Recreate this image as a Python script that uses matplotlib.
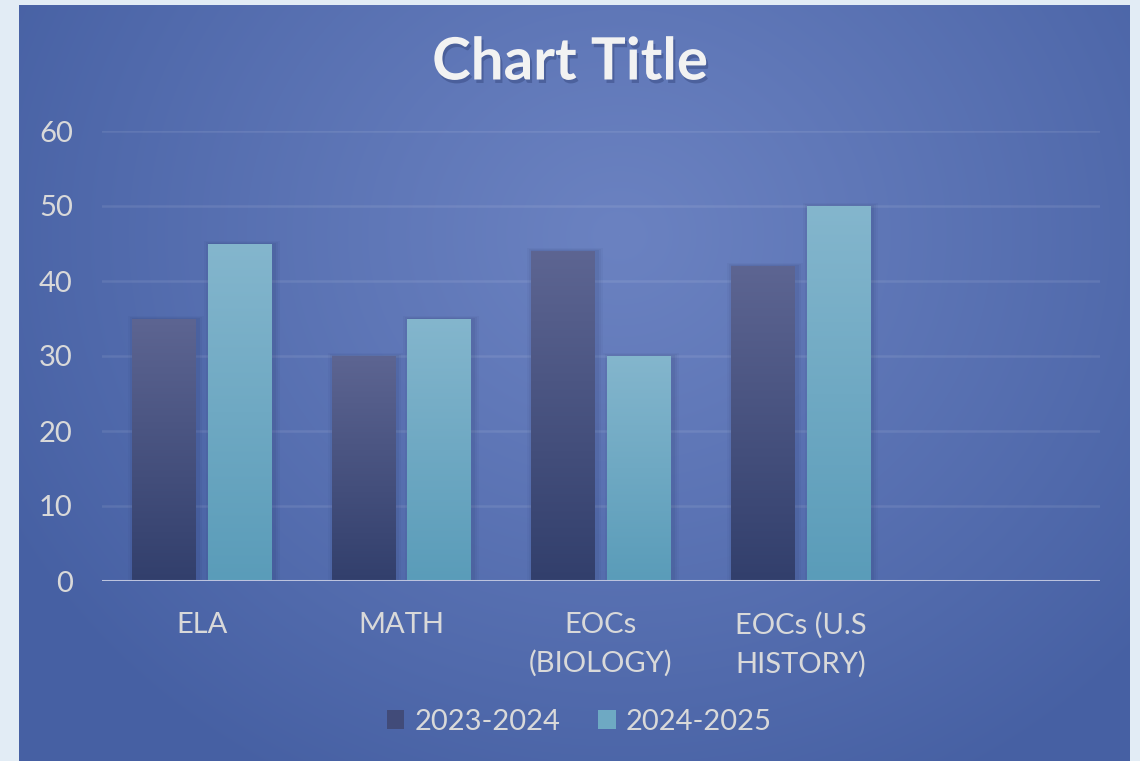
import numpy as np
import matplotlib.pyplot as plt
from matplotlib.colors import LinearSegmentedColormap, to_rgb
from matplotlib.patches import Rectangle, Patch
import matplotlib.patheffects as pe

plt.rcParams['font.family'] = ['Lato', 'DejaVu Sans']

# data
categories = ['ELA', 'MATH', 'EOCs\n(BIOLOGY)', 'EOCs (U.S\nHISTORY)', '']
series_names = ['2023-2024', '2024-2025']
vals_2023 = [35, 30, 44, 42, np.nan]
vals_2024 = [45, 35, 30, 50, np.nan]
yticks = [0, 10, 20, 30, 40, 50, 60]

txt_col = '#d9d9d9'
dark_top, dark_bot = '#5d6592', '#323f6c'
light_top, light_bot = '#84b6cd', '#5a9cb9'

W, H = 1140, 761
fig = plt.figure(figsize=(W / 100, H / 100), dpi=100)
fig.patch.set_facecolor('#e2ecf5')

# background panel with radial gradient
bg = fig.add_axes([19 / W, 0, (1130 - 19) / W, 756 / H])
bg.set_axis_off()
yy, xx = np.mgrid[0:756, 0:1111]
r = np.hypot((xx - 600) / 1.0, (yy - 230) / 0.9)
t = np.clip(r / 700, 0, 1) ** 1.1
c_in, c_out = np.array(to_rgb('#6b82c1')), np.array(to_rgb('#4660a3'))
img = c_in[None, None, :] * (1 - t[..., None]) + c_out[None, None, :] * t[..., None]
bg.imshow(img, aspect='auto', extent=[0, 1, 0, 1], origin='upper')
bg.set_xlim(0, 1)
bg.set_ylim(0, 1)

ax = fig.add_axes([102 / W, 1 - 581 / H, (1100 - 102) / W, (581 - 131) / H])
ax.patch.set_alpha(0)
x = np.arange(len(categories))
bw = 0.32
off = 0.19

px_x = 1 / 199.6   # data units per pixel
px_y = 60 / 450

def grad_bars(xpos, vals, top, bot):
    cmap = LinearSegmentedColormap.from_list('g', [bot, top])
    grad = np.linspace(0, 1, 256).reshape(-1, 1)
    for xi, v in zip(xpos, vals):
        if np.isnan(v):
            continue
        # soft shadow
        for k, a in [(6, 0.04), (4, 0.05), (2, 0.07)]:
            ax.add_patch(Rectangle((xi - bw / 2 - k * px_x + 2 * px_x, 0),
                                   bw + 2 * k * px_x, v + k * px_y * 0.5,
                                   facecolor='#1a2550', edgecolor='none',
                                   alpha=a, zorder=2))
        rect = Rectangle((xi - bw / 2, 0), bw, v, facecolor='none',
                         edgecolor='none', zorder=3)
        ax.add_patch(rect)
        im = ax.imshow(grad, cmap=cmap, origin='lower', aspect='auto',
                       extent=[xi - bw / 2, xi + bw / 2, 0, v], zorder=3)
        im.set_clip_path(rect)

grad_bars(x - off, vals_2023, dark_top, dark_bot)
grad_bars(x + off, vals_2024, light_top, light_bot)
ax.set_xlim(-0.5, len(categories) - 0.5)
ax.set_ylim(0, 60)

for yv in yticks[1:]:
    ax.axhline(yv, color='white', alpha=0.09, lw=1.8, zorder=1)
ax.axhline(0, color='#bcc3de', lw=2.2, zorder=4)

for s in ax.spines.values():
    s.set_visible(False)
ax.set_yticks(yticks)
ax.set_yticklabels([str(v) for v in yticks])
ax.set_xticks(x)
ax.set_xticklabels(categories, linespacing=1.55)
ax.tick_params(axis='y', length=0, pad=21, labelsize=21, labelcolor=txt_col)
ax.tick_params(axis='x', length=0, pad=22, labelsize=21, labelcolor=txt_col)

fig.text(0.5, 1 - 63 / H, 'Chart Title', ha='center', va='center',
         fontsize=42, fontweight='bold', color='#f2f2f2',
         path_effects=[pe.SimplePatchShadow(offset=(1.5, -2.5), shadow_rgbFace='#1c2a5c', alpha=0.3),
                       pe.Normal()])

handles = [Patch(facecolor='#414b79', edgecolor='none'),
           Patch(facecolor='#6ea9c3', edgecolor='none')]
leg = fig.legend(handles, series_names, loc='center', bbox_to_anchor=(0.508, 1 - 722 / H),
                 ncol=2, frameon=False, fontsize=21, handlelength=0.6, handleheight=0.6,
                 handletextpad=0.35, columnspacing=1.3)
for tx in leg.get_texts():
    tx.set_color(txt_col)

fig.savefig('out.png', dpi=100, facecolor=fig.get_facecolor())
